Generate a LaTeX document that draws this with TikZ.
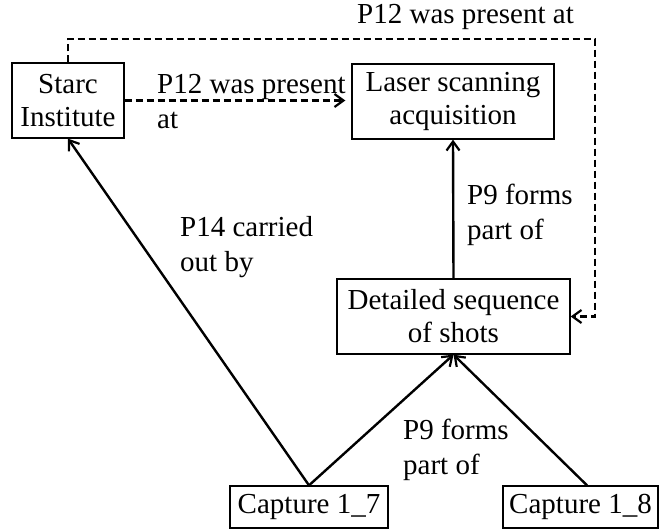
\documentclass[tikz,border=0pt]{standalone}
\usepackage{fontspec}
\setmainfont{Liberation Serif}
\usetikzlibrary{arrows.meta}
\begin{document}
\begin{tikzpicture}[x=1pt,y=-1pt,
  font=\fontsize{29}{33}\selectfont,
  box/.style={draw,line width=1.3pt,inner sep=0pt,align=center},
  rel/.style={line width=2.4pt,-{Straight Barb[length=9pt,width=13pt,line width=2.2pt]}},
  drel/.style={rel,dash pattern=on 7pt off 4pt},
  lbl/.style={inner sep=0pt,align=left,anchor=north west,font=\fontsize{29}{35}\selectfont}]
\useasboundingbox (0,0) rectangle (661,530);
% entities
\node[box,minimum width=112pt,minimum height=75pt] (starc) at (68,100.5) {Starc\\Institute};
\node[box,minimum width=202pt,minimum height=75pt] (laser) at (453,101.5) {Laser scanning\\acquisition};
\node[box,minimum width=233pt,minimum height=75pt] (detail) at (453.5,316.5) {Detailed sequence\\of shots};
\node[box,minimum width=158pt,minimum height=42pt] (capA) at (309,507) {Capture 1\_7};
\node[box,minimum width=155pt,minimum height=42pt] (capB) at (580.5,507) {Capture 1\_8};
\coordinate (corner) at (595,39);
% relations
\draw[drel,shorten >=6pt] (starc.east) -- (starc.east -| laser.west);
\draw[drel] (starc.north) |- (corner) |- (detail.east);
\draw[rel] (capA.north) -- (starc.south);
\draw[rel] (capA.north) -- (detail.south);
\draw[rel] (capB.north -| 587,0) -- (detail.south);
\draw[rel] (detail.north) -- (laser.south);
% relation labels
\node[lbl] (l1) at (357,4) {P12 was present at};
\node[lbl] (l2) at (157,74) {P12 was present\\at};
\node[lbl] (l3) at (467,184) {P9 forms\\part of};
\node[lbl] (l4) at (180,216) {P14 carried\\out by};
\node[lbl] (l5) at (403,419) {P9 forms\\part of};
\end{tikzpicture}
\end{document}
